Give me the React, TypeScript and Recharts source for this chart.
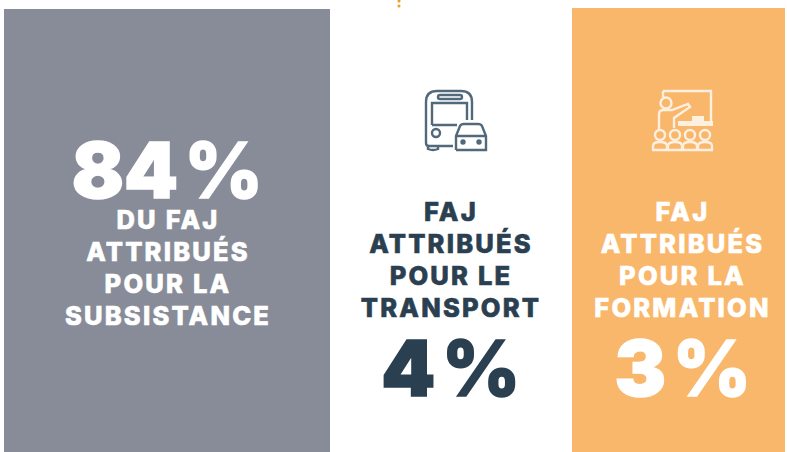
import { ComposedChart, ReferenceArea, ReferenceDot, XAxis, YAxis } from 'recharts';

const WIDTH = 787;
const HEIGHT = 452;

const percents = ['84', '4', '3'];
const captions = [
  ['DU FAJ', 'ATTRIBUÉS', 'POUR LA', 'SUBSISTANCE'],
  ['FAJ', 'ATTRIBUÉS', 'POUR LE', 'TRANSPORT'],
  ['FAJ', 'ATTRIBUÉS', 'POUR LA', 'FORMATION'],
];

const GRAY = '#878c98';
const NAVY = '#2a3f50';
const ORANGE = '#f8b76b';
const FONT = 'Inter, "Open Sans", sans-serif';

function Caption({ lines, cx, top, fill }: { lines: string[]; cx: number; top: number; fill: string }) {
  return (
    <g>
      {lines.map((line, i) => (
        <text key={i} x={cx} y={top + i * 32} textAnchor="middle" fill={fill} stroke={fill} strokeWidth={0.6}
          fontFamily={FONT} fontWeight={800} fontSize={25.5} letterSpacing={2.2}>
          {line}
        </text>
      ))}
    </g>
  );
}

function Percent({ value, cx, y, fill }: { value: string; cx: number; y: number; fill: string }) {
  return (
    <text x={cx} y={y} textAnchor="middle" fill={fill} stroke={fill} strokeWidth={1.6} fontFamily={FONT}
      fontWeight={900} fontSize={77}>
      {value}
      <tspan dx={6} fontWeight={800}>%</tspan>
    </text>
  );
}

function BusIcon() {
  const s = { fill: 'none', stroke: '#51697b', strokeWidth: 2.4 };
  return (
    <g {...s}>
      <path d="M472 120 V102 Q472 91 461 91 H437 Q426 91 426 102 V143 Q426 146 429 146 H453" />
      <rect x="438" y="95" width="24" height="4" rx="2" />
      <path d="M432 125 V103 H467 V120 M432 125 H457" />
      <circle cx="436" cy="133" r="4" />
      <path d="M428 146 V149 Q433 151 438 149 V146" />
      <path d="M456 150 V136 L460 126 Q461 124 464 124 H478 Q481 124 482 126 L486 136 V150 H456 M457 136 H485" />
      <circle cx="463" cy="142" r="1.5" fill="#51697b" />
      <circle cx="479" cy="142" r="1.5" fill="#51697b" />
    </g>
  );
}

function TeacherIcon() {
  const s = { fill: 'none', stroke: '#fdf0e0', strokeWidth: 2.4 };
  const heads = [660, 675, 690, 705];
  return (
    <g {...s}>
      <path d="M663 91 H711 V122 M663 91 V97" />
      <circle cx="666" cy="103" r="5.5" />
      <path d="M659 130 V114 Q659 110 664 110 H672 L688 104 L690 107 L674 118 V128" />
      <rect x="678" y="121" width="35" height="5" fill="#fdf0e0" stroke="none" />
      <rect x="692" y="116" width="12" height="5" fill="#fdf0e0" stroke="none" />
      {heads.map(h => (
        <g key={h}>
          <circle cx={h} cy={135} r={5} />
          <path d={`M${h - 7} 150 V146 Q${h - 7} 142 ${h} 142 Q${h + 7} 142 ${h + 7} 146 V150`} />
        </g>
      ))}
      <path d="M652 150 H713" />
    </g>
  );
}

const grayContent = () => (
  <g>
    <Percent value={percents[0]} cx={167.5} y={198} fill="#fff" />
    <Caption lines={captions[0]} cx={168} top={229} fill="#fff" />
  </g>
);

const whiteContent = () => (
  <g>
    <BusIcon />
    <Caption lines={captions[1]} cx={451} top={221} fill={NAVY} />
    <Percent value={percents[1]} cx={451} y={396} fill={NAVY} />
  </g>
);

const orangeContent = () => (
  <g>
    <TeacherIcon />
    <Caption lines={captions[2]} cx={682.5} top={221} fill="#fff" />
    <Percent value={percents[2]} cx={683} y={396} fill="#fff" />
  </g>
);

export default function App() {
  return (
    <div style={{ position: 'absolute', left: 0, top: 0 }}>
      <ComposedChart width={WIDTH} height={HEIGHT} margin={{ top: 0, right: 0, bottom: 0, left: 0 }}
        data={[{ x: 0, y: 0 }]} style={{ background: '#fff' }}>
        <XAxis type="number" dataKey="x" domain={[0, WIDTH]} hide />
        <YAxis type="number" dataKey="y" domain={[0, HEIGHT]} reversed hide />
        <ReferenceArea x1={4} x2={330} y1={9} y2={452} fill={GRAY} fillOpacity={1} stroke="none" label={grayContent} />
        <ReferenceArea x1={330} x2={572} y1={9} y2={452} fill="#fff" fillOpacity={1} stroke="none" label={whiteContent} />
        <ReferenceArea x1={572} x2={785} y1={8} y2={452} fill={ORANGE} fillOpacity={1} stroke="none" label={orangeContent} />
        {[1, 6].map(y => (
          <ReferenceDot key={y} x={399} y={y} r={1.5} fill="#f39a2d" stroke="none" />
        ))}
      </ComposedChart>
    </div>
  );
}
